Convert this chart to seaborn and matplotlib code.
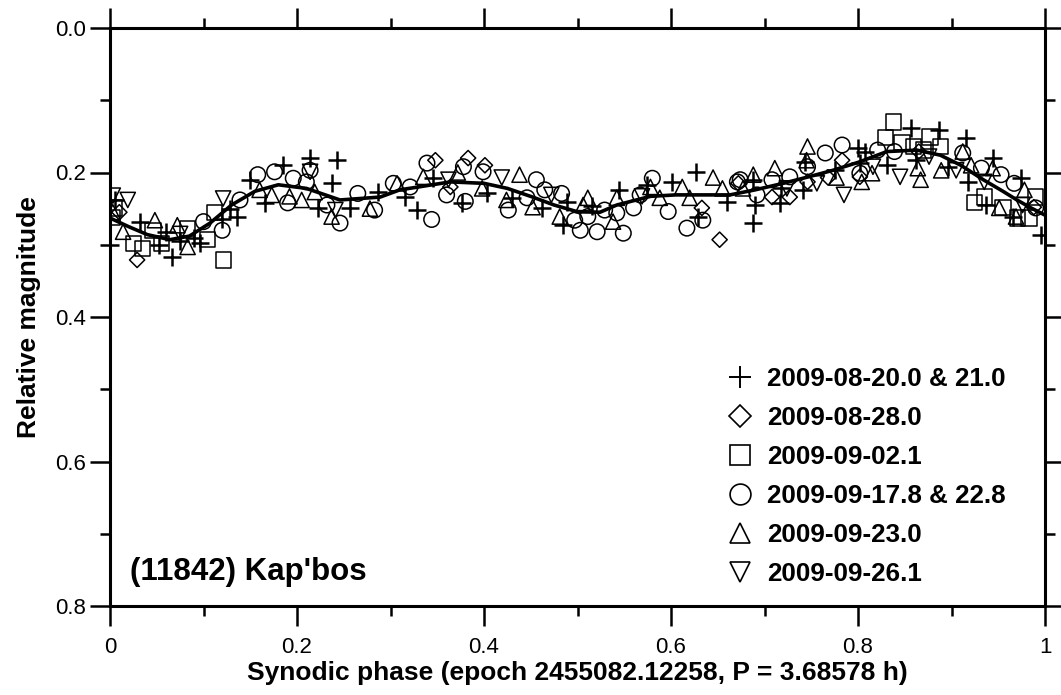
import matplotlib
matplotlib.use("Agg")
import matplotlib.pyplot as plt
import seaborn as sns
import pandas as pd
from matplotlib.lines import Line2D
from matplotlib.ticker import MultipleLocator, FuncFormatter

sns.set_theme(style="white")
plt.rcParams['font.family'] = ['Liberation Sans', 'DejaVu Sans']
plt.rcParams.update({'text.color': 'black', 'axes.labelcolor': 'black',
                     'xtick.color': 'black', 'ytick.color': 'black'})

# ---------------- data ----------------
labels = ["2009-08-20.0 & 21.0", "2009-08-28.0", "2009-09-02.1",
          "2009-09-17.8 & 22.8", "2009-09-23.0", "2009-09-26.1"]

plus_phase = [0.000, 0.005, 0.032, 0.052, 0.060, 0.066, 0.075, 0.090, 0.096, 0.120, 0.128, 0.136,
              0.150, 0.166, 0.185, 0.214, 0.222, 0.237, 0.243, 0.257, 0.287, 0.316, 0.328, 0.345,
              0.376, 0.403, 0.430, 0.462, 0.485, 0.489, 0.515, 0.544, 0.574, 0.601, 0.627, 0.629,
              0.660, 0.688, 0.690, 0.688, 0.717, 0.718, 0.741, 0.743, 0.775, 0.800, 0.808, 0.802,
              0.831, 0.857, 0.862, 0.887, 0.896, 0.916, 0.918, 0.937, 0.944, 0.966, 0.974, 0.996]
plus_mag = [0.300, 0.238, 0.268, 0.300, 0.282, 0.317, 0.295, 0.290, 0.298, 0.265, 0.250, 0.261,
            0.210, 0.242, 0.190, 0.180, 0.249, 0.215, 0.183, 0.249, 0.227, 0.234, 0.252, 0.208,
            0.242, 0.229, 0.235, 0.249, 0.273, 0.241, 0.247, 0.224, 0.217, 0.213, 0.199, 0.261,
            0.241, 0.210, 0.245, 0.270, 0.242, 0.222, 0.224, 0.185, 0.197, 0.166, 0.171, 0.187,
            0.190, 0.139, 0.183, 0.141, 0.192, 0.152, 0.213, 0.245, 0.180, 0.261, 0.208, 0.287]

diam_phase = [0.010, 0.029, 0.348, 0.364, 0.383, 0.401, 0.633, 0.652, 0.672, 0.708, 0.727,
              0.746, 0.768, 0.783, 0.802, 0.865, 0.988]
diam_mag = [0.255, 0.321, 0.183, 0.220, 0.180, 0.190, 0.249, 0.293, 0.215, 0.234, 0.234,
            0.213, 0.207, 0.183, 0.206, 0.171, 0.248]

sq_phase = [0.003, 0.005, 0.025, 0.035, 0.046, 0.055, 0.083, 0.104, 0.112, 0.121,
            0.829, 0.838, 0.847, 0.859, 0.870, 0.877, 0.888, 0.925, 0.935, 0.955, 0.971, 0.983, 0.990]
sq_mag = [0.262, 0.249, 0.298, 0.305, 0.280, 0.298, 0.277, 0.293, 0.255, 0.321,
          0.152, 0.130, 0.158, 0.164, 0.169, 0.151, 0.164, 0.241, 0.234, 0.248, 0.263, 0.263, 0.234]

circ_phase = [0.100, 0.120, 0.139, 0.158, 0.176, 0.190, 0.196, 0.210, 0.214, 0.232, 0.246, 0.265,
              0.283, 0.303, 0.321, 0.339, 0.344, 0.360, 0.378, 0.380, 0.399, 0.426, 0.446, 0.456,
              0.465, 0.483, 0.497, 0.503, 0.511, 0.521, 0.529, 0.542, 0.549, 0.560, 0.567, 0.580,
              0.597, 0.617, 0.634, 0.671, 0.674, 0.692, 0.708, 0.727, 0.746, 0.765, 0.783, 0.802,
              0.821, 0.839, 0.912, 0.932, 0.953, 0.967, 0.990]
circ_mag = [0.268, 0.280, 0.238, 0.203, 0.199, 0.242, 0.208, 0.213, 0.197, 0.245, 0.270, 0.229,
            0.252, 0.215, 0.220, 0.187, 0.265, 0.231, 0.192, 0.240, 0.199, 0.252, 0.235, 0.210,
            0.224, 0.229, 0.266, 0.280, 0.261, 0.282, 0.252, 0.256, 0.284, 0.249, 0.231, 0.208,
            0.254, 0.277, 0.266, 0.213, 0.210, 0.231, 0.210, 0.206, 0.192, 0.173, 0.162, 0.201,
            0.169, 0.171, 0.173, 0.194, 0.203, 0.215, 0.249]

tri_phase = [0.003, 0.014, 0.048, 0.072, 0.083, 0.160, 0.173, 0.192, 0.205, 0.219, 0.237, 0.278,
             0.307, 0.335, 0.372, 0.398, 0.424, 0.438, 0.452, 0.481, 0.506, 0.511, 0.538, 0.542,
             0.578, 0.588, 0.612, 0.620, 0.645, 0.655, 0.677, 0.688, 0.711, 0.745, 0.746, 0.777,
             0.804, 0.815, 0.864, 0.867, 0.889, 0.912, 0.921, 0.944, 0.951, 0.969, 0.978]
tri_mag = [0.255, 0.282, 0.266, 0.273, 0.303, 0.224, 0.231, 0.233, 0.238, 0.227, 0.261, 0.250,
           0.215, 0.206, 0.200, 0.222, 0.238, 0.203, 0.248, 0.261, 0.245, 0.235, 0.268, 0.235,
           0.220, 0.235, 0.220, 0.235, 0.207, 0.222, 0.222, 0.203, 0.194, 0.183, 0.164, 0.207,
           0.213, 0.201, 0.194, 0.210, 0.197, 0.171, 0.190, 0.194, 0.249, 0.261, 0.224]

inv_phase = [0.003, 0.019, 0.075, 0.121, 0.214, 0.241, 0.362, 0.419, 0.472, 0.569, 0.724,
             0.756, 0.785, 0.816, 0.845, 0.876, 0.905, 0.935, 0.976]
inv_mag = [0.232, 0.238, 0.285, 0.236, 0.199, 0.252, 0.210, 0.207, 0.231, 0.233, 0.222,
           0.215, 0.231, 0.192, 0.206, 0.178, 0.197, 0.213, 0.245]

curve_phase = [0.000, 0.020, 0.040, 0.064, 0.085, 0.107, 0.130, 0.155, 0.180, 0.210, 0.246,
               0.289, 0.310, 0.330, 0.364, 0.400, 0.425, 0.452, 0.475, 0.499, 0.524, 0.542,
               0.578, 0.605, 0.631, 0.663, 0.690, 0.720, 0.750, 0.773, 0.800, 0.831, 0.863,
               0.888, 0.910, 0.934, 0.955, 0.970, 0.985, 1.000]
curve_mag = [0.263, 0.275, 0.286, 0.293, 0.288, 0.270, 0.245, 0.226, 0.217, 0.222, 0.238,
             0.234, 0.224, 0.220, 0.213, 0.215, 0.222, 0.234, 0.245, 0.254, 0.255, 0.245,
             0.233, 0.231, 0.231, 0.231, 0.224, 0.215, 0.205, 0.197, 0.186, 0.171, 0.169,
             0.176, 0.190, 0.210, 0.226, 0.238, 0.249, 0.259]

series = [
    (plus_phase, plus_mag, '+'),
    (diam_phase, diam_mag, 'D'),
    (sq_phase, sq_mag, 's'),
    (circ_phase, circ_mag, 'o'),
    (tri_phase, tri_mag, '^'),
    (inv_phase, inv_mag, 'v'),
]
sizes = {'+': 160, 'D': 60, 's': 120, 'o': 125, '^': 120, 'v': 120}

# ---------------- figure ----------------
fig = plt.figure(figsize=(10.61, 6.95), dpi=100)
ax = fig.add_axes([110 / 1061, 89 / 695, 935 / 1061, 578 / 695])

for (px, py, mk), lab in zip(series, labels):
    df = pd.DataFrame({"phase": px, "mag": py})
    if mk == '+':
        sns.scatterplot(data=df, x="phase", y="mag", marker='+', s=sizes[mk],
                        color='black', linewidth=1.8, ax=ax, legend=False, zorder=3)
    else:
        sns.scatterplot(data=df, x="phase", y="mag", marker=mk, s=sizes[mk],
                        facecolors='none', edgecolor='black', linewidth=1.1,
                        ax=ax, legend=False, zorder=3)

cdf = pd.DataFrame({"phase": curve_phase, "mag": curve_mag})
sns.lineplot(data=cdf, x="phase", y="mag", color='black', linewidth=2.6, ax=ax, zorder=4)

ax.set_xlim(0, 1)
ax.set_ylim(0.8, 0.0)
ax.xaxis.set_major_locator(MultipleLocator(0.2))
ax.xaxis.set_minor_locator(MultipleLocator(0.1))
ax.yaxis.set_major_locator(MultipleLocator(0.2))
ax.yaxis.set_minor_locator(MultipleLocator(0.1))
ax.xaxis.set_major_formatter(FuncFormatter(
    lambda v, p: "0" if abs(v) < 1e-9 else ("1" if abs(v - 1) < 1e-9 else f"{v:.1f}")))
ax.yaxis.set_major_formatter(FuncFormatter(lambda v, p: f"{v:.1f}"))

ax.tick_params(which='both', direction='out', top=True, right=True, bottom=True, left=True,
               color='black', width=1.8, labelcolor='black')
ax.tick_params(which='major', length=14.4)
ax.tick_params(which='minor', length=7.2)
ax.tick_params(axis='y', labelsize=16, pad=3)
ax.tick_params(axis='x', labelsize=16, pad=8)
for sp in ax.spines.values():
    sp.set_linewidth(2.2)
    sp.set_color('black')

ax.set_xlabel("Synodic phase (epoch 2455082.12258, P = 3.68578 h)", fontsize=19,
              fontweight='bold', labelpad=2)
ax.set_ylabel("Relative magnitude", fontsize=19, fontweight='bold', labelpad=10)

ax.text(0.021, 0.059, "(11842) Kap'bos", transform=ax.transAxes, fontsize=22.5,
        fontweight='bold', ha='left', va='center')

handles = []
for (px, py, mk), lab in zip(series, labels):
    if mk == '+':
        h = Line2D([], [], linestyle='none', marker='+', markersize=16, color='black',
                   markeredgewidth=1.4, label=lab)
    else:
        ms = {'D': 11, 's': 14, 'o': 15, '^': 14, 'v': 14}[mk]
        h = Line2D([], [], linestyle='none', marker=mk, markersize=ms, markerfacecolor='none',
                   markeredgecolor='black', markeredgewidth=1.2, label=lab)
    handles.append(h)
leg = ax.legend(handles=handles, loc='upper left',
                bbox_to_anchor=((724 - 110) / 935, (606 - 367) / 578),
                frameon=False, handlelength=1.2, handletextpad=0.45, labelspacing=0.575,
                prop={'weight': 'bold', 'size': 18.7}, borderaxespad=0, borderpad=0)

fig.savefig("out.png", dpi=100)
